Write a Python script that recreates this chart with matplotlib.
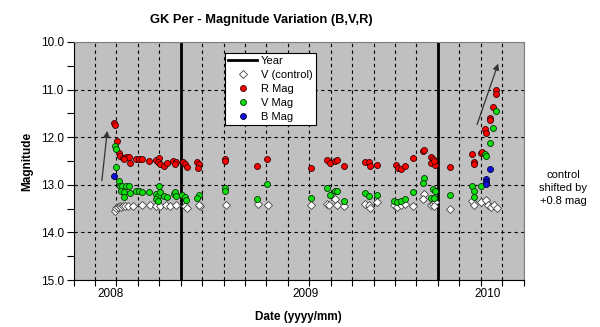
import numpy as np
import matplotlib
matplotlib.use("Agg")
import matplotlib.pyplot as plt
from matplotlib.lines import Line2D

plt.rcParams['font.family'] = ['Liberation Sans', 'DejaVu Sans']

# x positions are in months from the start of the plotted range
YEAR_LINES = [5, 17]
YEAR_LABEL_POS = [1.75, 10.83, 19.34]
YEAR_LABELS = ["2008", "2009", "2010"]

# R magnitudes
r_date = [1.89, 1.95, 2.02, 2.12, 2.15, 2.33, 2.43, 2.57, 2.37, 2.65, 2.93, 3.07, 3.19, 3.52,
          3.87, 3.99, 3.94, 4.05, 4.21, 4.34, 4.63, 4.78, 4.72, 5.12, 5.21, 5.29, 5.78, 5.85,
          5.82, 7.09, 7.09, 8.58, 9.05, 11.06, 11.84, 11.96, 12.20, 12.28, 12.62, 13.60, 13.80,
          13.83, 14.17, 15.07, 15.13, 15.28, 15.47, 15.86, 16.33, 16.38, 16.70, 16.79, 16.68,
          16.87, 16.84, 17.59, 18.58, 18.69, 18.69, 19.00, 19.08, 19.21, 19.25, 19.43, 19.43,
          19.57, 19.71, 19.71]
r_mag = [11.70, 11.75, 12.08, 12.33, 12.39, 12.43, 12.41, 12.41, 12.46, 12.54, 12.46, 12.45,
         12.45, 12.50, 12.47, 12.44, 12.53, 12.57, 12.61, 12.55, 12.51, 12.52, 12.57, 12.53,
         12.57, 12.63, 12.53, 12.57, 12.64, 12.45, 12.49, 12.60, 12.45, 12.64, 12.48, 12.54,
         12.49, 12.48, 12.60, 12.52, 12.53, 12.60, 12.59, 12.59, 12.64, 12.67, 12.61, 12.44,
         12.29, 12.27, 12.41, 12.46, 12.55, 12.59, 12.50, 12.62, 12.35, 12.53, 12.57, 12.34,
         12.31, 11.82, 11.91, 11.59, 11.64, 11.37, 11.00, 11.09]

# V magnitudes
v_date = [1.92, 1.96, 2.00, 2.12, 2.15, 2.27, 2.43, 2.58, 2.23, 2.34, 2.34, 2.65, 2.93, 3.07,
          3.19, 3.52, 3.99, 3.87, 3.94, 4.05, 3.85, 3.94, 4.21, 4.34, 4.67, 4.72, 4.78, 5.08,
          5.19, 5.27, 5.84, 5.78, 7.09, 7.09, 8.58, 9.05, 11.06, 11.84, 11.96, 12.20, 12.28,
          12.62, 13.60, 13.80, 14.17, 14.95, 15.08, 15.28, 15.47, 15.86, 16.37, 16.30, 16.79,
          16.87, 16.68, 16.84, 17.59, 18.58, 18.69, 18.69, 19.02, 19.20, 19.25, 19.43, 19.57,
          19.71]
v_mag = [12.18, 12.24, 12.63, 12.93, 13.03, 13.02, 13.03, 13.03, 13.14, 13.16, 13.25, 13.17,
         13.12, 13.14, 13.16, 13.15, 13.03, 13.19, 13.24, 13.16, 13.29, 13.33, 13.24, 13.26,
         13.19, 13.16, 13.24, 13.22, 13.26, 13.31, 13.21, 13.28, 13.07, 13.12, 13.29, 12.99,
         13.28, 13.07, 13.22, 13.12, 13.14, 13.34, 13.17, 13.24, 13.22, 13.33, 13.36, 13.35,
         13.29, 13.15, 12.86, 12.97, 13.08, 13.14, 13.28, 13.28, 13.21, 13.03, 13.12, 13.26,
         13.03, 12.35, 12.40, 12.12, 11.80, 11.45]

# B magnitudes
b_date = [1.87, 19.43, 19.25, 19.25, 19.24]
b_mag = [12.81, 12.66, 12.87, 12.94, 12.99]

# comparison star, V band, shifted by +0.8 mag
c_date = [1.94, 2.00, 2.08, 2.15, 2.22, 2.30, 2.40, 2.54, 2.77, 3.21, 3.55, 3.87, 4.02, 4.33,
          4.50, 4.77, 5.19, 5.29, 5.89, 5.84, 7.10, 8.61, 9.08, 11.06, 11.84, 11.92, 12.20,
          12.30, 12.62, 13.60, 13.80, 13.83, 14.17, 14.95, 15.08, 15.28, 15.47, 15.86, 16.37,
          16.32, 16.68, 16.79, 16.87, 16.84, 17.59, 18.58, 18.69, 19.02, 19.25, 19.36, 19.49,
          19.64, 19.75]
c_mag = [13.54, 13.48, 13.47, 13.45, 13.46, 13.45, 13.44, 13.45, 13.45, 13.43, 13.43, 13.44,
         13.45, 13.43, 13.44, 13.43, 13.45, 13.48, 13.45, 13.43, 13.43, 13.41, 13.43, 13.42,
         13.40, 13.42, 13.29, 13.43, 13.45, 13.40, 13.43, 13.49, 13.37, 13.43, 13.47, 13.42,
         13.40, 13.45, 13.19, 13.29, 13.42, 13.40, 13.36, 13.45, 13.50, 13.34, 13.42, 13.36,
         13.31, 13.42, 13.47, 13.43, 13.49]

fig = plt.figure(figsize=(6.0, 3.27), dpi=100)
ax = fig.add_axes([0.1225, 0.1437, 0.75, 0.7279])
ax.set_facecolor('#c0c0c0')

for x in YEAR_LINES:
    ax.axvline(x, color='black', lw=2, zorder=2)

ms = 4.3
ax.plot(c_date, c_mag, 'D', ms=3.6, mfc='white', mec='#444444', mew=0.6, zorder=3)
ax.plot(r_date, r_mag, 'o', ms=ms, mfc='#ff0000', mec='#330000', mew=0.6, zorder=4)
ax.plot(v_date, v_mag, 'o', ms=ms, mfc='#11dd11', mec='#003300', mew=0.6, zorder=4)
ax.plot(b_date, b_mag, 'o', ms=ms, mfc='#1010dd', mec='#000033', mew=0.6, zorder=5)

# arrows marking the brightening
arrow = dict(arrowstyle='-|>', color='#333333', lw=0.9, mutation_scale=9)
ax.annotate('', xy=(1.59, 11.81), xytext=(1.31, 12.97), arrowprops=arrow, zorder=6)
ax.annotate('', xy=(19.86, 10.40), xytext=(18.79, 11.79), arrowprops=arrow, zorder=6)

ax.set_xlim(0, 21)
ax.set_ylim(15, 10)

ax.set_yticks(np.arange(10, 15.01, 1.0))
ax.set_yticklabels([f"{v:.1f}" for v in np.arange(10, 15.01, 1.0)])
ax.set_yticks(np.arange(10.5, 15, 1.0), minor=True)
ax.set_xticks(YEAR_LABEL_POS)
ax.set_xticklabels(YEAR_LABELS)
ax.set_xticks(np.arange(0, 21.01, 1), minor=True)

ax.tick_params(axis='y', which='both', direction='out', length=5, width=0.8,
               labelsize=8.5, pad=2, colors='black')
ax.tick_params(axis='x', which='major', length=0, labelsize=8.5, pad=6)
ax.tick_params(axis='x', which='minor', direction='out', length=4, width=0.8)

ax.grid(axis='y', which='major', color='black', ls=(0, (3, 3)), lw=0.8)
ax.grid(axis='x', which='minor', color='black', ls=(0, (3, 3)), lw=0.8)
ax.set_axisbelow(True)

for side in ['top', 'right']:
    ax.spines[side].set_color('#808080')
for side in ['left', 'bottom']:
    ax.spines[side].set_color('black')

fig.text(261.5 / 600, 1 - 20 / 327, "GK Per - Magnitude Variation (B,V,R)",
         ha='center', va='center', fontsize=9.3, fontweight='bold')
ax.set_ylabel("Magnitude", fontsize=8.5, fontweight='bold', labelpad=5)
ax.set_xlabel("Date (yyyy/mm)", fontsize=8.5, fontweight='bold', labelpad=8)

handles = [
    Line2D([], [], color='black', lw=2),
    Line2D([], [], ls='', marker='D', ms=3.6, mfc='white', mec='#444444', mew=0.6),
    Line2D([], [], ls='', marker='o', ms=ms, mfc='#ff0000', mec='#330000', mew=0.6),
    Line2D([], [], ls='', marker='o', ms=ms, mfc='#11dd11', mec='#003300', mew=0.6),
    Line2D([], [], ls='', marker='o', ms=ms, mfc='#1010dd', mec='#000033', mew=0.6),
]
labels = ["Year", "V (control)", "R Mag", "V Mag", "B Mag"]
leg = ax.legend(handles, labels, loc='upper left', bbox_to_anchor=(225 / 600, 1 - 53 / 327),
                bbox_transform=fig.transFigure, fontsize=8, frameon=True, fancybox=False,
                framealpha=1, edgecolor='black', borderpad=0.3, labelspacing=0.35,
                handlelength=2.6, handletextpad=0.3, borderaxespad=0)
leg.get_frame().set_linewidth(0.8)

fig.text(563 / 600, 1 - 188 / 327, "control\nshifted by\n+0.8 mag", ha='center', va='center',
         fontsize=8, linespacing=1.35)

plt.savefig("out.png", dpi=100)
